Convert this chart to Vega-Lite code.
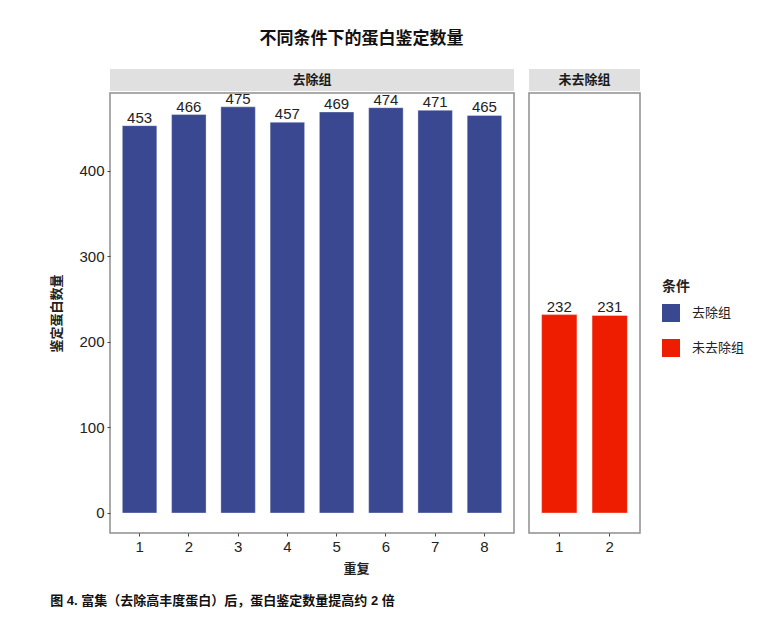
{
  "$schema": "https://vega.github.io/schema/vega-lite/v6.json",
  "padding": {"left": 50, "top": 30, "right": 5, "bottom": 5},
  "background": "white",
  "config": {
    "font": "Liberation Sans, Noto Sans CJK SC",
    "view": {"stroke": "#8f8f8f", "strokeWidth": 1.5},
    "axis": {
      "domain": false, "grid": false, "tickColor": "#444", "tickSize": 3,
      "labelFontSize": 15, "labelColor": "#222", "labelPadding": 3,
      "titleFontSize": 13, "titleFontWeight": "bold", "titleColor": "#222"
    },
    "legend": {
      "titleFontSize": 14, "titleFontWeight": "bold", "titleColor": "#222",
      "labelFontSize": 13, "labelColor": "#222",
      "symbolType": "square", "symbolSize": 324, "symbolStrokeWidth": 0, "symbolOpacity": 1,
      "rowPadding": 17, "titlePadding": 10, "labelOffset": 12
    }
  },
  "title": {"text": "不同条件下的蛋白鉴定数量", "anchor": "middle", "dx": -36, "fontSize": 17, "fontWeight": "bold", "color": "#111", "offset": 21},
  "data": {"values": [
    {"group": "去除组", "rep": 1, "count": 453},
    {"group": "去除组", "rep": 2, "count": 466},
    {"group": "去除组", "rep": 3, "count": 475},
    {"group": "去除组", "rep": 4, "count": 457},
    {"group": "去除组", "rep": 5, "count": 469},
    {"group": "去除组", "rep": 6, "count": 474},
    {"group": "去除组", "rep": 7, "count": 471},
    {"group": "去除组", "rep": 8, "count": 465},
    {"group": "未去除组", "rep": 1, "count": 232},
    {"group": "未去除组", "rep": 2, "count": 231}
  ]},
  "vconcat": [{
    "title": {"text": "图 4. 富集（去除高丰度蛋白）后，蛋白鉴定数量提高约 2 倍", "orient": "bottom", "anchor": "start", "frame": "bounds", "fontSize": 13, "fontWeight": "bold", "color": "#111", "offset": 19},
    "hconcat": [
      {
        "spacing": 2,
        "bounds": "flush",
        "vconcat": [
          {
            "width": 404, "height": 22,
            "data": {"values": [{"strip": "去除组"}]},
            "view": {"fill": "#e0e0e0", "stroke": null},
            "mark": {"type": "text", "fontSize": 13, "fontWeight": "bold", "color": "#1a1a1a"},
            "encoding": {"text": {"field": "strip"}}
          },
          {
            "width": 404, "height": 440,
            "transform": [{"filter": "datum.group === '去除组'"}],
            "encoding": {
              "x": {"field": "rep", "type": "ordinal",
                "scale": {"paddingInner": 0.3, "paddingOuter": 0.25},
                "axis": {"title": "重复", "labelAngle": 0, "titleX": 246, "titlePadding": 8}},
              "y": {"field": "count", "type": "quantitative",
                "scale": {"domain": [-23.4, 491.2], "nice": false, "zero": false},
                "axis": {"title": "鉴定蛋白数量", "values": [0, 100, 200, 300, 400], "titlePadding": 15}}
            },
            "layer": [
              {
                "mark": {"type": "bar", "stroke": "#ffffff", "strokeOpacity": 0.35, "strokeWidth": 1},
                "encoding": {
                  "y2": {"datum": 0},
                  "color": {"field": "group", "type": "nominal",
                    "scale": {"domain": ["去除组", "未去除组"], "range": ["#394890", "#ef1d00"]},
                    "legend": {"title": "条件", "orient": "none", "legendX": 552, "legendY": 211}}
                }
              },
              {
                "mark": {"type": "text", "dy": -8, "fontSize": 15, "color": "#222"},
                "encoding": {"text": {"field": "count"}}
              }
            ]
          }
        ]
      },
      {
        "spacing": 2,
        "bounds": "flush",
        "vconcat": [
          {
            "width": 111, "height": 22,
            "data": {"values": [{"strip": "未去除组"}]},
            "view": {"fill": "#e0e0e0", "stroke": null},
            "mark": {"type": "text", "fontSize": 13, "fontWeight": "bold", "color": "#1a1a1a"},
            "encoding": {"text": {"field": "strip"}}
          },
          {
            "width": 111, "height": 440,
            "transform": [{"filter": "datum.group === '未去除组'"}],
            "encoding": {
              "x": {"field": "rep", "type": "ordinal",
                "scale": {"paddingInner": 0.3, "paddingOuter": 0.25},
                "axis": {"title": null, "labelAngle": 0}},
              "y": {"field": "count", "type": "quantitative",
                "scale": {"domain": [-23.4, 491.2], "nice": false, "zero": false},
                "axis": null}
            },
            "layer": [
              {
                "mark": {"type": "bar", "stroke": "#ffffff", "strokeOpacity": 0.35, "strokeWidth": 1},
                "encoding": {
                  "y2": {"datum": 0},
                  "color": {"field": "group", "type": "nominal",
                    "scale": {"domain": ["去除组", "未去除组"], "range": ["#394890", "#ef1d00"]},
                    "legend": {"title": "条件", "orient": "none", "legendX": 552, "legendY": 211}}
                }
              },
              {
                "mark": {"type": "text", "dy": -8, "fontSize": 15, "color": "#222"},
                "encoding": {"text": {"field": "count"}}
              }
            ]
          }
        ]
      }
    ],
    "spacing": 13
  }]
}
